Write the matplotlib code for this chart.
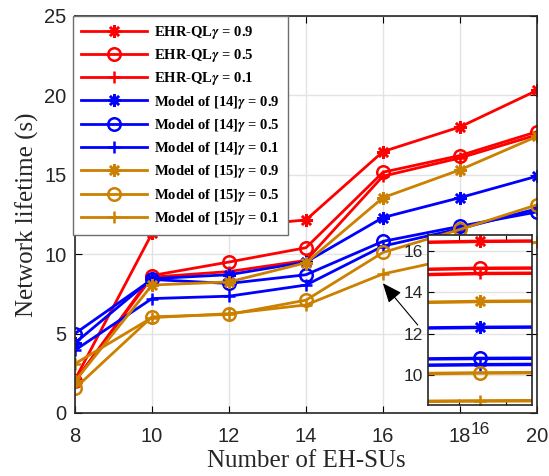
import matplotlib
matplotlib.use('Agg')
import matplotlib.pyplot as plt
import numpy as np

# number of EH-SUs
x = [8, 10, 12, 14, 16, 18, 20]

ehr_09 = [2.1, 11.3, 11.7, 12.15, 16.45, 18.0, 20.3]
ehr_05 = [2.0, 8.65, 9.5, 10.4, 15.15, 16.2, 17.7]
ehr_01 = [2.0, 8.55, 8.9, 9.6, 14.9, 16.05, 17.5]
m14_09 = [4.4, 8.45, 8.7, 9.5, 12.3, 13.55, 14.9]
m14_05 = [5.0, 8.4, 8.15, 8.7, 10.8, 11.75, 12.65]
m14_01 = [3.95, 7.2, 7.35, 8.05, 10.5, 11.6, 12.85]
m15_09 = [2.0, 8.05, 8.25, 9.45, 13.55, 15.3, 17.4]
m15_05 = [1.55, 6.05, 6.2, 7.1, 10.1, 11.55, 13.1]
m15_01 = [3.1, 6.0, 6.25, 6.8, 8.75, 9.8, 10.75]

g = r'$\boldsymbol{\gamma}$'
labels = ['EHR-QL' + g + ' = 0.9', 'EHR-QL' + g + ' = 0.5', 'EHR-QL' + g + ' = 0.1',
          'Model of [14]' + g + ' = 0.9', 'Model of [14]' + g + ' = 0.5', 'Model of [14]' + g + ' = 0.1',
          'Model of [15]' + g + ' = 0.9', 'Model of [15]' + g + ' = 0.5', 'Model of [15]' + g + ' = 0.1']
series = [ehr_09, ehr_05, ehr_01, m14_09, m14_05, m14_01, m15_09, m15_05, m15_01]

red = '#FF0000'
blue = '#0000FF'
orange = '#CC8000'
colors = [red]*3 + [blue]*3 + [orange]*3
star = (8, 2, 0)
markers = [star, 'o', '+'] * 3

plt.rcParams['mathtext.fontset'] = 'stix'
sans = ['Liberation Sans', 'DejaVu Sans']
serif = ['Liberation Serif', 'DejaVu Serif']

fig = plt.figure(figsize=(5.49, 4.76), dpi=100)
ax = fig.add_axes([0.1366, 0.1324, 0.8415, 0.8346])

for ys, c, m, lab in zip(series, colors, markers, labels):
    ax.plot(x, ys, color=c, marker=m, markersize=9, markerfacecolor='none',
            markeredgewidth=1.8, linewidth=2, label=lab)

ax.set_xlim(8, 20)
ax.set_ylim(0, 25)
ax.set_xticks(x)
ax.set_yticks([0, 5, 10, 15, 20, 25])
ax.grid(color='#E3E3E3', linewidth=1)
ax.set_axisbelow(True)
ax.tick_params(direction='in', top=True, right=True, length=5, labelsize=14.5)
ax.tick_params(axis='x', pad=10)
ax.tick_params(axis='y', pad=6)
for t in ax.get_xticklabels() + ax.get_yticklabels():
    t.set_family(sans)
    t.set_color('#262626')
for s in ax.spines.values():
    s.set_linewidth(1.2)
    s.set_color('#262626')
ax.set_xlabel('Number of EH-SUs', family=serif, fontsize=18, color='#262626', labelpad=3)
ax.set_ylabel('Network lifetime (s)', family=serif, fontsize=18, color='#262626', labelpad=4)

leg = ax.legend(loc='upper left', bbox_to_anchor=(-0.004, 1.0), borderaxespad=0,
                prop={'family': serif, 'weight': 'bold', 'size': 10.5},
                handlelength=4.5, labelspacing=0.43, fancybox=False,
                framealpha=1, edgecolor='#6E6E6E', borderpad=0.55, handletextpad=0.5)
leg.get_frame().set_linewidth(1)

# arrow pointing to the zoomed region
ax.annotate('', xy=(15.95, 8.3), xytext=(16.95, 5.4),
            arrowprops=dict(arrowstyle='-|>,head_length=0.6,head_width=0.25',
                            color='k', lw=0.8, mutation_scale=20))

# inset zoom around x = 16
axin = fig.add_axes([0.7796, 0.149, 0.1894, 0.357])
for ys, c, m in zip(series, colors, markers):
    axin.plot(x, ys, color=c, marker=m, markersize=9, markerfacecolor='none',
              markeredgewidth=1.8, linewidth=2.5)
axin.set_xlim(15.98, 16.02)
axin.set_ylim(8.55, 16.75)
axin.set_xticks([15.992, 16, 16.01])
axin.set_xticklabels(['', '16', ''])
axin.set_yticks([10, 12, 14, 16])
axin.grid(axis='y', color='#E3E3E3', linewidth=1)
axin.set_axisbelow(True)
axin.tick_params(direction='in', top=True, right=True, length=4, labelsize=12.5)
axin.tick_params(axis='x', pad=12)
for t in axin.get_xticklabels() + axin.get_yticklabels():
    t.set_family(sans)
    t.set_color('#262626')
for s in axin.spines.values():
    s.set_linewidth(1.2)
    s.set_color('#262626')

fig.savefig('out.png', dpi=100)
